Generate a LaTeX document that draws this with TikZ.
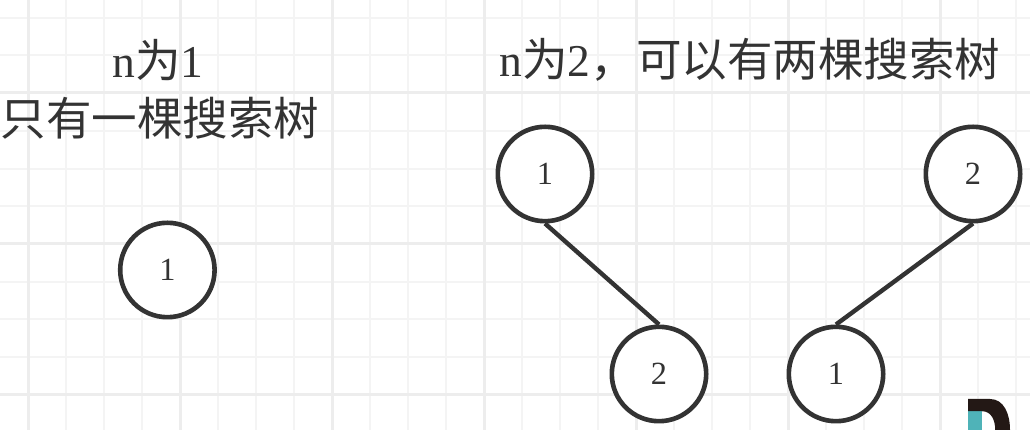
\documentclass[tikz,border=0pt]{standalone}
\usepackage{fontspec}
\setmainfont{Liberation Serif}
\newfontfamily\cjk{Noto Sans CJK SC}
\usetikzlibrary{positioning}
\definecolor{inkgray}{HTML}{333333}
\definecolor{gridthin}{HTML}{F4F4F4}
\definecolor{gridthick}{HTML}{EDEDED}
\definecolor{logoteal}{HTML}{4FB3B8}
\definecolor{logoblack}{HTML}{231815}

\begin{document}
\begin{tikzpicture}[
    treenode/.style={circle, draw=inkgray, fill=white, line width=0.115cm, minimum size=2.36cm, inner sep=0pt, font=\fontsize{23}{23}\selectfont, text=inkgray},
    treeedge/.style={draw=inkgray, line width=0.11cm},
    title/.style={font=\fontsize{32.4}{32.4}\selectfont, text=inkgray, inner sep=0pt},
    thinline/.style={gridthin, line width=0.05cm},
    thickline/.style={gridthick, line width=0.075cm}
]
\useasboundingbox (0, 0) rectangle (25.75, 10.75);
\fill[white] (0, 0) rectangle (25.75, 10.75);

% Grid
\foreach \x in {-1,...,27} {
    \draw[thinline] ({0.7 + 0.95*\x}, 0) -- ({0.7 + 0.95*\x}, 10.75);
}
\foreach \y in {-1,...,11} {
    \draw[thinline] (0, {0.875 + 0.9437*\y}) -- (25.75, {0.875 + 0.9437*\y});
}
\foreach \x in {0.7,4.5,8.3,12.1,15.9,19.7,23.5} {
    \draw[thickline] (\x, 0) -- (\x, 10.75);
}
\foreach \y in {0.875,4.65,8.425} {
    \draw[thickline] (0, \y) -- (25.75, \y);
}

% Titles
\node[title] (oneline) at (3.95, 9.25) {n{\cjk 为}1};
\node[title] (onetext) at (4, 7.8) {\cjk 只有一棵搜索树};
\node[title] (twotext) at (18.75, 9.25) {n{\cjk 为}2{\cjk ，可以有两棵搜索树}};

% Trees
\node[treenode] (single) at (4.185, 4) {1};

\node[treenode] (leftroot) at (13.625, 6.4) {1};
\node[treenode] (leftchild) at (16.475, 1.4) {2};
\node[treenode] (rightroot) at (24.325, 6.4) {2};
\node[treenode] (rightchild) at (20.9, 1.4) {1};

\draw[treeedge] (leftroot.south) -- (leftchild.north);
\draw[treeedge] (rightroot.south) -- (rightchild.north);

% Logo cut off by the edge
\fill[logoteal] (24.2, 0) rectangle (24.55, 0.47);
\fill[logoblack] (24.2, 0.47) -- (24.2, 0.775) -- (24.75, 0.775) .. controls (25.1, 0.775) and (25.25, 0.4) .. (25.25, 0) -- (24.88, 0) .. controls (24.88, 0.25) and (24.78, 0.47) .. (24.55, 0.47) -- cycle;
\end{tikzpicture}
\end{document}
